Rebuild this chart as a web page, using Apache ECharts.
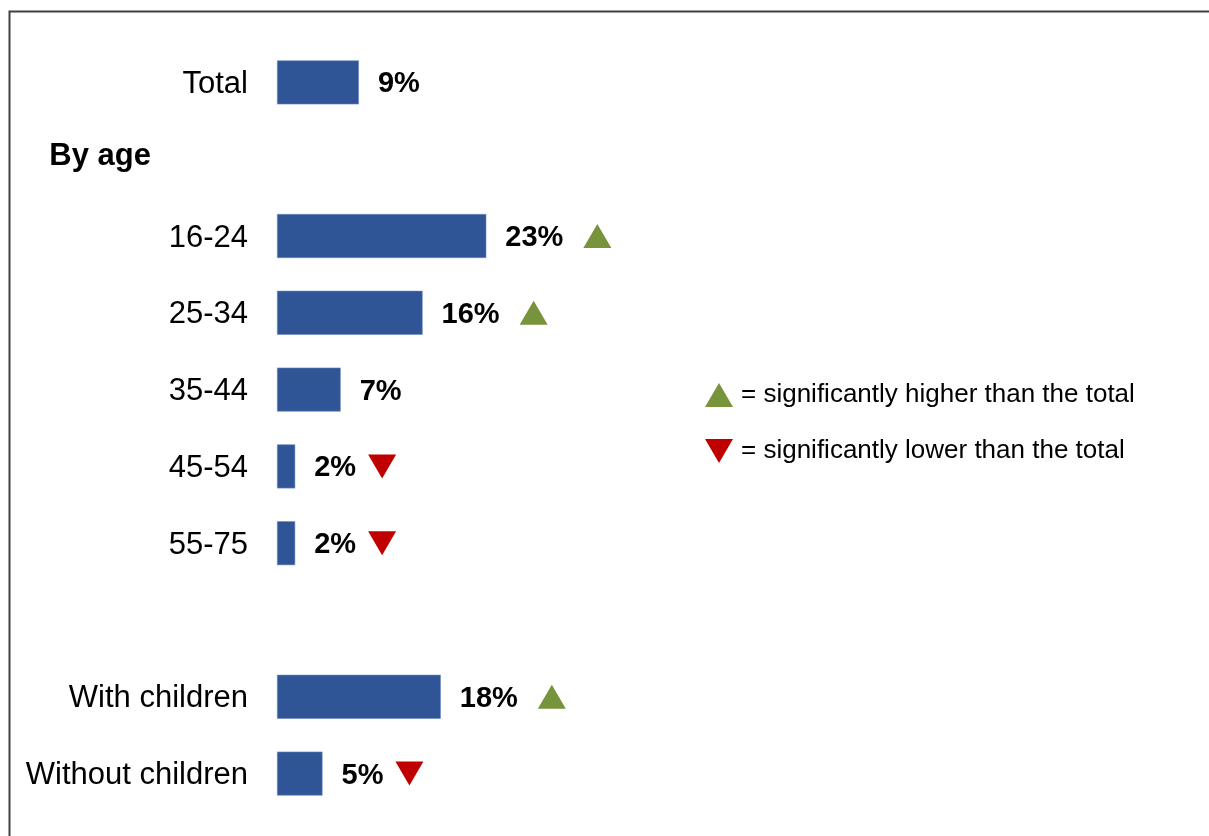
<!DOCTYPE html>
<html>
<head>
<meta charset="utf-8">
<title>Share by group</title>
<script src="https://cdn.jsdelivr.net/npm/echarts@6/dist/echarts.min.js"></script>
<style>
  html, body { margin: 0; padding: 0; background: #ffffff; }
  #chart { width: 1209px; height: 836px; }
</style>
</head>
<body>
<div id="chart"></div>
<script>
// Row labels, top to bottom ('' is a spacer row, 'By age' is a section header)
const categories = ['Total', 'By age', '16-24', '25-34', '35-44', '45-54', '55-75', '', 'With children', 'Without children'];
// Percentages per row ('-' = no bar)
const values = [9, '-', 23, 16, 7, 2, 2, '-', 18, 5];
// Significance vs. total: 'higher', 'lower' or ''
const significance = ['', '', 'higher', 'higher', '', 'lower', 'lower', '', 'higher', 'lower'];
const headers = ['By age'];
const legendHigher = '= significantly higher than the total';
const legendLower = '= significantly lower than the total';

const FONT = "'Liberation Sans', Arial, sans-serif";
const BAR_COLOR = '#2F5597';
const GREEN = '#77933C';
const RED = '#C00000';
const VALUE_FONT_SIZE = 29;
const LABEL_DIST = 19;
const TRI_W = 28, TRI_H = 24;
// space between a value label and its marker, by label length ("2%" / "23%")
const TRI_GAP = { 2: 12, 3: 20 };

// width of a value label, used to put the marker just after it
const measureCtx = document.createElement('canvas').getContext('2d');
measureCtx.font = 'bold ' + VALUE_FONT_SIZE + 'px ' + FONT;
function labelWidth(v) { return measureCtx.measureText(v + '%').width; }

function markerData(kind) {
  const out = [];
  categories.forEach(function (c, i) {
    if (significance[i] === kind) {
      const txt = values[i] + '%';
      out.push({
        value: [values[i], c],
        symbolOffset: [LABEL_DIST + labelWidth(values[i]) + (TRI_GAP[txt.length] || 16) + TRI_W / 2, 0]
      });
    }
  });
  return out;
}

const downPath = 'path://M0,0 L28,0 L14,24 Z';
const upPath = 'path://M14,0 L28,24 L0,24 Z';

const chart = echarts.init(document.getElementById('chart'));
chart.setOption({
  animation: false,
  backgroundColor: '#ffffff',
  textStyle: { fontFamily: FONT },
  grid: { left: 277, right: 22, top: 44, bottom: 24, containLabel: false },
  xAxis: { type: 'value', min: 0, max: 100, show: false },
  yAxis: {
    type: 'category',
    data: categories,
    inverse: true,
    axisLine: { show: false },
    axisTick: { show: false },
    splitLine: { show: false },
    axisLabel: {
      margin: 29,
      color: '#000',
      fontSize: 31,
      fontFamily: FONT,
      formatter: function (v) {
        if (headers.indexOf(v) >= 0) return '{hdr|' + v + '}';
        return '{cat|' + v + '}';
      },
      rich: {
        cat: { fontSize: 31, color: '#000', fontFamily: FONT, padding: [4, 0, 0, 0] },
        hdr: { fontSize: 31, fontWeight: 'bold', color: '#000', fontFamily: FONT, padding: [4, 97, 10, 0] }
      }
    }
  },
  legend: {
    orient: 'vertical',
    left: 705,
    top: 382,
    padding: 0,
    itemWidth: TRI_W,
    itemHeight: TRI_H,
    itemGap: 30,
    selectedMode: false,
    textStyle: { fontSize: 26, color: '#000', fontFamily: FONT, padding: [0, 0, 0, 3] },
    data: [
      { name: legendHigher, icon: upPath },
      { name: legendLower, icon: downPath }
    ]
  },
  series: [
    {
      type: 'bar',
      data: values,
      barWidth: 44,
      itemStyle: { color: BAR_COLOR, borderColor: '#6f8cc0', borderWidth: 0.6 },
      label: {
        show: true,
        position: 'right',
        distance: LABEL_DIST,
        offset: [0, 2],
        formatter: '{c}%',
        fontSize: VALUE_FONT_SIZE,
        fontWeight: 'bold',
        color: '#000',
        fontFamily: FONT
      },
      emphasis: { disabled: true },
      silent: true
    },
    {
      type: 'scatter',
      name: legendHigher,
      data: markerData('higher'),
      symbol: upPath,
      symbolSize: [TRI_W, TRI_H],
      itemStyle: { color: GREEN, opacity: 1 },
      emphasis: { disabled: true },
      silent: true,
      z: 5
    },
    {
      type: 'scatter',
      name: legendLower,
      data: markerData('lower'),
      symbol: downPath,
      symbolSize: [TRI_W, TRI_H],
      itemStyle: { color: RED, opacity: 1 },
      emphasis: { disabled: true },
      silent: true,
      z: 5
    }
  ],
  graphic: [
    {
      type: 'rect',
      left: 7,
      top: 9,
      shape: { width: 1400, height: 1000 },
      style: { fill: 'none', stroke: '#404040', lineWidth: 2 },
      silent: true,
      z: 100
    }
  ]
});
</script>
</body>
</html>
